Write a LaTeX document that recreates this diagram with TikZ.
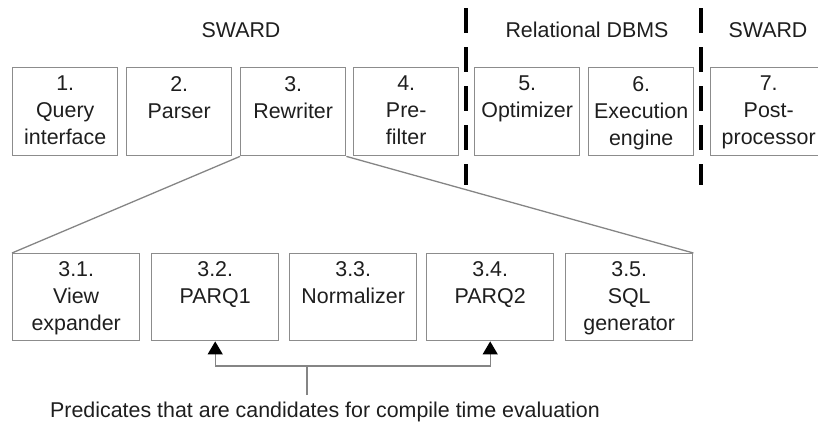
\documentclass[tikz,border=0pt]{standalone}
\usepackage{fontspec}
\setmainfont{Liberation Sans}
\usetikzlibrary{arrows.meta}
\definecolor{boxgray}{HTML}{8C8C8C}
\definecolor{linegray}{HTML}{858585}
\definecolor{ink}{HTML}{1E1E1E}
\begin{document}
\begin{tikzpicture}[x=1pt,y=-1pt,
  box/.style={draw=boxgray, line width=1.4pt, inner sep=0pt, anchor=north west},
  topbox/.style={box, minimum width=105pt, minimum height=88pt},
  subbox/.style={box, minimum width=127pt, minimum height=87pt},
  lbl/.style={text=ink, align=center, inner sep=0pt, anchor=north,
    font=\fontsize{21.4}{27}\selectfont},
  head/.style={text=ink, inner sep=0pt, anchor=base,
    font=\fontsize{21.4}{27}\selectfont},
  link/.style={draw=linegray, line width=1.3pt},
  pointer/.style={link, -{Triangle[width=15pt,length=13pt,color=black]}},
  divider/.style={draw=black, line width=3.5pt, dash pattern=on 25pt off 14pt}]
\useasboundingbox (0,0) rectangle (818,423);
\clip (0,0) rectangle (818,423);

% section headings
\node[head] (h1) at (241,37) {SWARD};
\node[head] (h2) at (587,37) {Relational DBMS};
\node[head] (h3) at (768,37) {SWARD};

% dividers between the systems
\coordinate (d1a) at (466,8);   \coordinate (d1b) at (466,185);
\coordinate (d2a) at (701,8);   \coordinate (d2b) at (701,185);
\draw[divider] (d1a) -- (d1b);
\draw[divider] (d2a) -- (d2b);

% query processing stages
\node[topbox] (b1) at (12,67) {};
\node[topbox] (b2) at (126,67) {};
\node[topbox] (b3) at (240,67) {};
\node[topbox] (b4) at (353,67) {};
\node[topbox] (b5) at (474,67) {};
\node[topbox] (b6) at (588,67) {};
\node[topbox, minimum width=116pt] (b7) at (710,67) {};
\node[lbl] (l1) at ([yshift=-9pt]b1.north) {1.\\Query\\interface};
\node[lbl] (l2) at ([yshift=-9pt]b2.north) {2.\\Parser};
\node[lbl] (l3) at ([yshift=-9pt]b3.north) {3.\\Rewriter};
\node[lbl] (l4) at ([yshift=-9pt]b4.north) {4.\\Pre-\\filter};
\node[lbl] (l5) at ([yshift=-9pt]b5.north) {5.\\Optimizer};
\node[lbl] (l6) at ([yshift=-9pt]b6.north) {6.\\Execution\\engine};
\node[lbl] (l7) at ([yshift=-9pt]b7.north) {7.\\Post-\\processor};

% rewriter sub-stages
\node[subbox] (s1) at (12,253) {};
\node[subbox] (s2) at (151,253) {};
\node[subbox] (s3) at (289,253) {};
\node[subbox] (s4) at (426,253) {};
\node[subbox] (s5) at (565,253) {};
\node[lbl] (m1) at ([yshift=-8pt]s1.north) {3.1.\\View\\expander};
\node[lbl] (m2) at ([yshift=-8pt]s2.north) {3.2.\\PARQ1};
\node[lbl] (m3) at ([yshift=-8pt]s3.north) {3.3.\\Normalizer};
\node[lbl] (m4) at ([yshift=-8pt]s4.north) {3.4.\\PARQ2};
\node[lbl] (m5) at ([yshift=-8pt]s5.north) {3.5.\\SQL\\generator};

% expansion of the rewriter
\draw[link] (b3.south west) -- (s1.north west);
\draw[link] (b3.south east) -- (s5.north east);

% compile time evaluation note
\node[head, anchor=base west] (note) at (50,417)
  {Predicates that are candidates for compile time evaluation};
\coordinate (stem) at (307,395);
\coordinate (fork) at (307,366);
\draw[link] (stem) -- (fork);
\draw[pointer] (fork) -| (s2.south);
\draw[pointer] (fork) -| (s4.south);
\end{tikzpicture}
\end{document}
